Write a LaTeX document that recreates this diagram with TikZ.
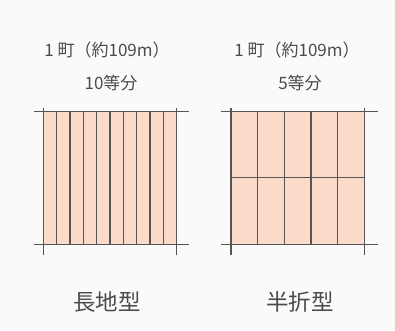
\documentclass[tikz,border=0pt]{standalone}
\usepackage{fontspec}
\newfontfamily\jp{Noto Sans CJK JP}
\definecolor{bgc}{RGB}{250,250,250}
\definecolor{plot}{RGB}{250,218,200}
\definecolor{ln}{RGB}{90,85,85}
\definecolor{txt}{RGB}{75,75,75}
\begin{document}
\begin{tikzpicture}[x=1pt,y=-1pt,
  grid/.style={draw=ln,line width=1.4pt},
  thin/.style={draw=ln,line width=1.2pt},
  toptext/.style={text=txt,font=\jp\fontsize{17}{20}\selectfont,inner sep=0pt},
  bottext/.style={text=txt,font=\jp\fontsize{22.5}{26}\selectfont,inner sep=0pt}]
\fill[bgc] (0,0) rectangle (395,330);
\useasboundingbox (0,0) rectangle (395,330);
% left plot
\fill[plot] (43.3,111.7) rectangle (176.7,244.3);
\foreach \i in {1,...,9} \draw[thin] ({43.3+\i*13.34},111.7) -- ({43.3+\i*13.34},244.3);
\draw[grid] (34,111.7) -- (189,111.7);
\draw[grid] (34,244.3) -- (189,244.3);
\draw[grid] (43.3,108) -- (43.3,255);
\draw[grid] (176.7,108) -- (176.7,255);
% right plot
\fill[plot] (231,111.7) rectangle (364.3,244.3);
\foreach \i in {1,...,4} \draw[thin] ({231+\i*26.66},111.7) -- ({231+\i*26.66},244.3);
\draw[thin] (231,177.7) -- (364.3,177.7);
\draw[grid] (221,111.7) -- (377.7,111.7);
\draw[grid] (221,244.3) -- (377.7,244.3);
\draw[grid] (231,108) -- (231,255);
\draw[grid] (364.3,108) -- (364.3,255);
% texts
\node[toptext] (t1) at (107,50) {1 町（約109m）};
\node[toptext] (s1) at (111,83) {10等分};
\node[toptext] (t2) at (297,50) {1 町（約109m）};
\node[toptext] (s2) at (300,83) {5等分};
\node[bottext] (b1) at (107,302) {長地型};
\node[bottext] (b2) at (300,302) {半折型};
\end{tikzpicture}
\end{document}
